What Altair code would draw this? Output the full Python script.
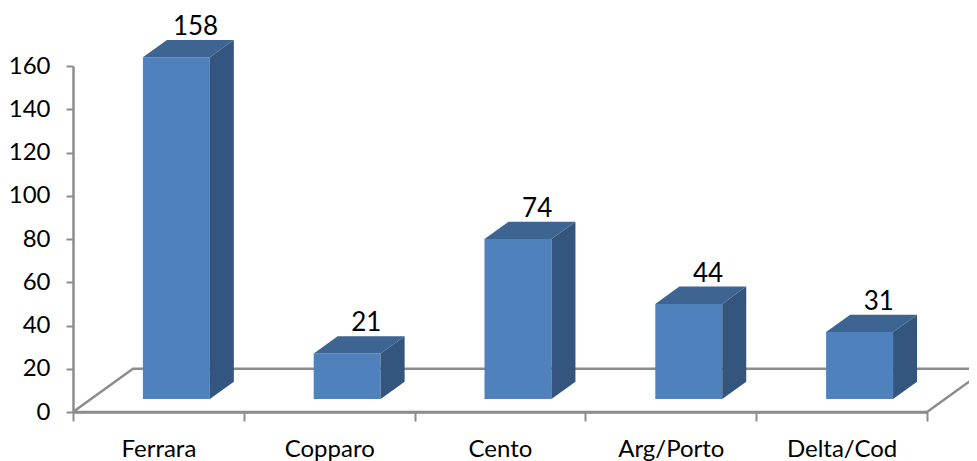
import altair as alt
import pandas as pd

# ---- data ----
categories = ["Ferrara", "Copparo", "Cento", "Arg/Porto", "Delta/Cod"]
values = [158, 21, 74, 44, 31]
y_ticks = [0, 20, 40, 60, 80, 100, 120, 140, 160]

# ---- 3D styling constants (in scale units) ----
DX = 0.351      # floor depth, horizontal shift (category units)
DY = 20.0       # floor depth, vertical shift (value units)
BW = 0.392      # bar width (category units)
D0, D1 = 0.3, 0.7   # bar depth range (fraction of floor depth)
GRAY = "#8C8C8C"
FRONT, TOP, SIDE = "#4F81BD", "#3E6592", "#34557D"
FONT = "Lato"

front_rows, side_rows, top_rows, label_rows = [], [], [], []
for i, (c, v) in enumerate(zip(categories, values)):
    cx = i + 0.5
    x0 = cx - BW / 2 + D0 * DX
    x1 = cx + BW / 2 + D0 * DX
    yb = D0 * DY
    sh = (D1 - D0)
    front_rows.append({"cat": c, "x0": x0, "x1": x1, "y0": yb, "y1": v + yb})
    side_rows += [
        {"cat": c, "x": x1, "y": yb, "y2": v + yb},
        {"cat": c, "x": x1 + sh * DX, "y": yb + sh * DY, "y2": v + yb + sh * DY},
    ]
    top_rows += [
        {"cat": c, "y": v + yb, "x": x0, "x2": x1},
        {"cat": c, "y": v + yb + sh * DY, "x": x0 + sh * DX, "x2": x1 + sh * DX},
    ]
    label_rows.append({"cat": c, "x": cx + 0.62 * DX, "y": v + D1 * DY, "t": str(v)})

n = len(categories)
floor_df = pd.DataFrame({
    "o": [0, 1, 2, 3, 4],
    "x": [0, n, n + DX, DX, 0],
    "y": [0, 0, DY, DY, 0],
})

xscale = alt.Scale(domain=[0, n], nice=False, zero=False)
yscale = alt.Scale(domain=[0, 160], nice=False)

names = "[" + ",".join("'" + c + "'" for c in categories) + "]"
xvals = [k / 2 for k in range(0, 2 * n + 1)]
xaxis = alt.Axis(
    values=xvals,
    labelExpr=f"datum.value % 1 === 0 ? '' : {names}[floor(datum.value)]",
    tickColor={"condition": {"test": "datum.value % 1 !== 0", "value": "transparent"}, "value": GRAY},
    tickSize=9, tickWidth=2,
    domainColor=GRAY, domainWidth=2.5,
    labelFont=FONT, labelFontSize=24, labelColor="black",
    labelPadding=16, labelOverlap=False, labelFlush=False, labelBound=False,
    grid=False, title=None,
)
yaxis = alt.Axis(
    values=y_ticks,
    tickSize=7, tickWidth=2, tickColor=GRAY,
    domainColor=GRAY, domainWidth=2.5,
    labelFont=FONT, labelFontSize=24, labelColor="black",
    labelPadding=16, grid=False, title=None,
)

floor = alt.Chart(floor_df).mark_line(color=GRAY, strokeWidth=2.5).encode(
    x=alt.X("x:Q", scale=xscale, axis=xaxis),
    y=alt.Y("y:Q", scale=yscale, axis=yaxis),
    order="o:Q",
)

front = alt.Chart(pd.DataFrame(front_rows)).mark_rect(color=FRONT).encode(
    x=alt.X("x0:Q", scale=xscale, axis=xaxis), x2="x1:Q",
    y=alt.Y("y0:Q", scale=yscale, axis=yaxis), y2="y1:Q",
)

side = alt.Chart(pd.DataFrame(side_rows)).mark_area(color=SIDE, orient="vertical").encode(
    x=alt.X("x:Q", scale=xscale, axis=xaxis),
    y=alt.Y("y:Q", scale=yscale, axis=yaxis), y2="y2:Q",
    detail="cat:N",
)

top = alt.Chart(pd.DataFrame(top_rows)).mark_area(color=TOP, orient="horizontal").encode(
    y=alt.Y("y:Q", scale=yscale, axis=yaxis),
    x=alt.X("x:Q", scale=xscale, axis=xaxis), x2="x2:Q",
    detail="cat:N",
)

labels = alt.Chart(pd.DataFrame(label_rows)).mark_text(
    font=FONT, fontSize=26, color="black", baseline="middle", align="center", dy=-13
).encode(
    x=alt.X("x:Q", scale=xscale, axis=xaxis),
    y=alt.Y("y:Q", scale=yscale, axis=yaxis),
    text="t:N",
)

chart = alt.layer(floor, front, side, top, labels).properties(
    width=854, height=346,
    padding={"left": 65, "top": 58, "right": 42, "bottom": 49},
    autosize="none",
    background="white",
).configure_view(strokeWidth=0)

chart.save("out.html", embed_options={"renderer": "svg", "actions": False})
